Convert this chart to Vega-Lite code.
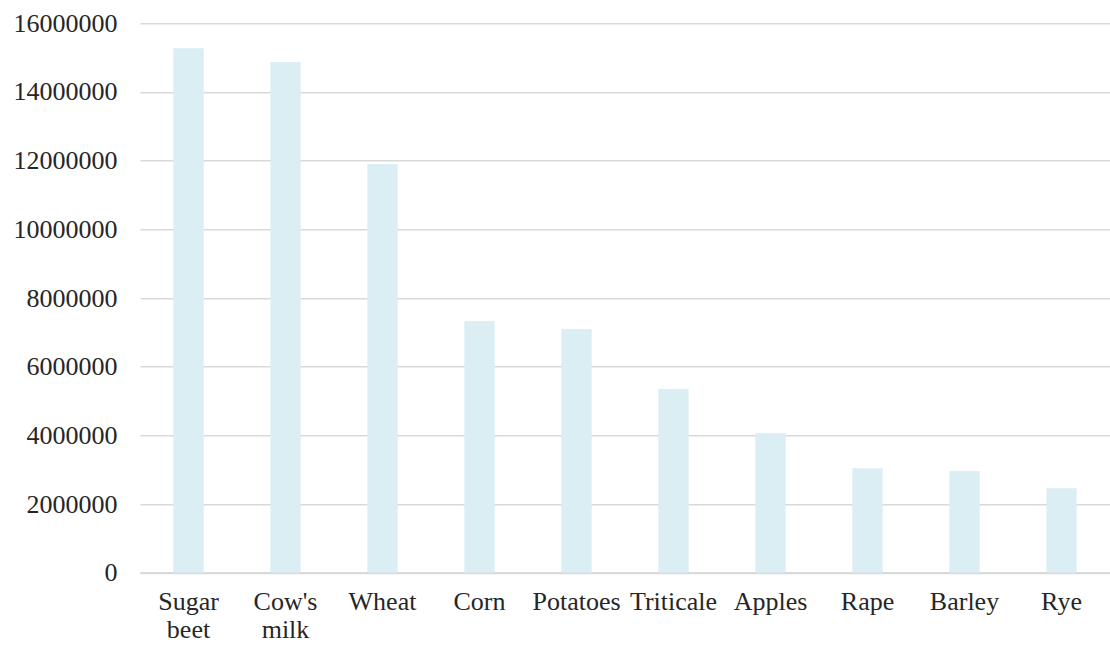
{
  "$schema": "https://vega.github.io/schema/vega-lite/v6.json",
  "autosize": "none",
  "width": 970,
  "height": 549.4,
  "padding": {"left": 140, "top": 23.3, "right": 0, "bottom": 72.3},
  "background": "white",
  "config": {
    "view": {"stroke": null},
    "font": "Liberation Serif"
  },
  "data": {
    "values": [
      {"product": "Sugar beet", "value": 15270000},
      {"product": "Cow's milk", "value": 14870000},
      {"product": "Wheat", "value": 11900000},
      {"product": "Corn", "value": 7330000},
      {"product": "Potatoes", "value": 7100000},
      {"product": "Triticale", "value": 5350000},
      {"product": "Apples", "value": 4060000},
      {"product": "Rape", "value": 3040000},
      {"product": "Barley", "value": 2960000},
      {"product": "Rye", "value": 2460000}
    ]
  },
  "mark": {"type": "bar", "color": "#DAEEF3"},
  "encoding": {
    "x": {
      "field": "product",
      "type": "nominal",
      "sort": null,
      "scale": {"paddingInner": 0.687, "paddingOuter": 0.3435},
      "axis": {
        "title": null,
        "labelAngle": 0,
        "labelFont": "Liberation Serif",
        "labelFontSize": 26,
        "labelColor": "#262626",
        "labelPadding": 16,
        "labelLineHeight": 28,
        "labelExpr": "datum.label == 'Sugar beet' ? ['Sugar', 'beet'] : datum.label == \"Cow's milk\" ? [\"Cow's\", 'milk'] : datum.label",
        "ticks": false,
        "domain": true,
        "domainColor": "#d9d9d9",
        "domainWidth": 2,
        "grid": false
      }
    },
    "y": {
      "field": "value",
      "type": "quantitative",
      "scale": {"domain": [0, 16000000], "nice": false},
      "axis": {
        "title": null,
        "values": [0, 2000000, 4000000, 6000000, 8000000, 10000000, 12000000, 14000000, 16000000],
        "format": "d",
        "labelFont": "Liberation Serif",
        "labelFontSize": 26,
        "labelColor": "#262626",
        "labelPadding": 23,
        "ticks": false,
        "domain": false,
        "grid": true,
        "gridColor": "#d9d9d9",
        "gridWidth": 1.5
      }
    }
  }
}
